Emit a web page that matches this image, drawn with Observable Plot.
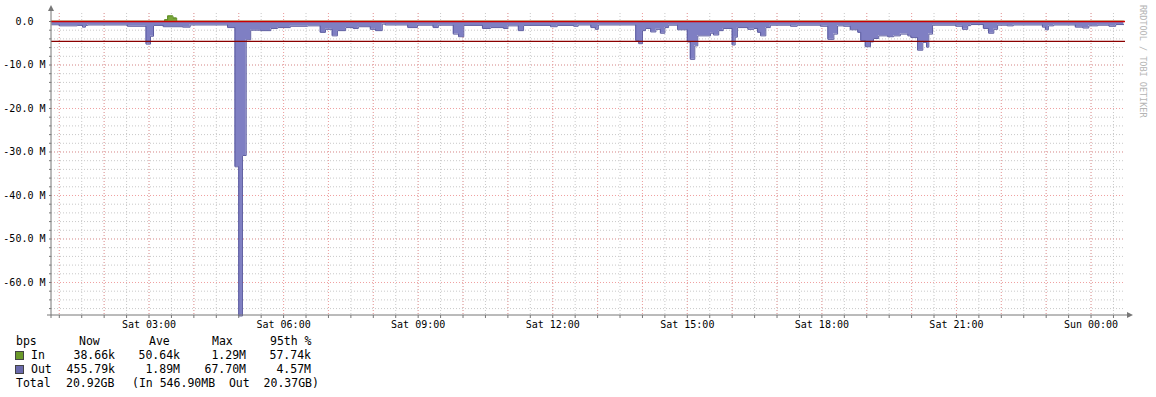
<!DOCTYPE html>
<html><head><meta charset="utf-8">
<script src="https://cdn.jsdelivr.net/npm/d3@7"></script>
<script src="https://cdn.jsdelivr.net/npm/@observablehq/plot@0.6"></script>
<style>
body{margin:0;background:#fff;}
#wrap{position:relative;width:1156px;height:397px;overflow:hidden;background:#fff;}
#legend{position:absolute;left:0;top:332px;width:1156px;height:65px;font-family:"DejaVu Sans Mono",monospace;font-size:11.5px;color:#000;}
.c{position:absolute;white-space:pre;line-height:14px;height:14px;}
.sw{position:absolute;width:7px;height:7px;border:1px solid #444;}
</style></head>
<body><div id="wrap"><div id="chart"></div><div id="legend"></div></div>
<script>
// ---- data (Mbps) ----
const outTimes = ["00:50","01:00","01:24","01:31","01:35","01:38","02:31","02:56","03:02","03:06","03:19","03:45","03:55","04:45","04:55","05:00","05:05","05:10","05:16","05:29","05:43","05:52","06:09","06:32","06:49","06:56","07:05","07:12","07:23","07:33","07:40","07:56","08:03","08:12","08:16","08:46","08:59","09:20","09:27","09:47","09:54","10:01","10:26","10:37","10:54","11:00","11:14","11:21","11:57","12:06","12:28","12:34","12:51","12:57","13:01","13:51","13:55","14:00","14:04","14:11","14:18","14:24","14:30","14:35","14:47","15:00","15:04","15:10","15:14","15:31","15:35","15:42","15:48","16:00","16:04","16:07","16:21","16:29","16:34","16:38","16:45","16:51","17:18","17:27","17:58","18:08","18:16","18:21","18:29","18:38","18:48","18:52","18:58","19:05","19:09","19:16","19:28","19:36","19:45","19:55","19:59","20:08","20:15","20:20","20:23","20:28","20:59","21:08","21:15","21:19","21:36","21:43","21:50","21:55","22:08","22:16","22:55","22:59","23:03","23:10","23:39","23:49","23:57","00:09","00:24","00:33"];
const outValues = [0.75,1.0,0.9,1.3,0.9,0.8,1.1,5.2,3.4,0.9,1.2,1.3,0.8,1.4,33.4,67.7,30.8,4.2,2.0,2.1,1.6,1.4,1.1,1.0,2.5,1.8,3.3,2.1,1.4,1.6,1.2,1.8,2.1,0.6,0.8,1.4,0.85,1.4,0.85,2.9,3.5,0.9,1.6,1.4,1.6,1.0,2.1,0.9,1.2,0.9,1.1,0.8,1.4,1.8,0.8,4.4,5.1,2.1,1.6,2.4,1.8,2.7,1.4,0.85,1.9,4.7,8.7,5.6,3.3,2.7,3.1,2.1,1.6,5.4,3.6,1.4,1.8,1.6,2.5,3.3,1.4,0.85,1.1,0.85,1.1,4.1,2.9,1.0,1.1,1.9,2.5,4.4,5.8,4.7,3.9,3.3,3.5,3.3,2.9,3.3,3.7,6.6,4.8,5.9,2.9,0.85,1.1,1.8,0.95,0.7,1.6,2.7,1.8,0.85,1.0,0.8,1.3,1.9,1.0,0.8,1.3,1.5,1.0,0.85,1.1,0.7];
const seriesEnd = "00:44";
const inTimes = ["00:50","03:21","03:25","03:32","03:37"];
const inValues = [0.04,0.4,1.29,0.8,0.04];
const out95 = 4.57;
const yMajor = [0,-10,-20,-30,-40,-50,-60];
const legendHead = ["bps","Now","Ave","Max","95th %"];
const inStats = ["38.66k","50.64k","1.29M","57.74k"];
const outStats = ["455.79k","1.89M","67.70M","4.57M"];
const totalText = ["Total","20.92GB","(In 546.90MB  Out  20.37GB)"];
const watermark = "RRDTOOL / TOBI OETIKER";

// ---- helpers ----
const base = Date.UTC(2023,0,7); // a Saturday
function t(s){const [h,m]=s.split(":").map(Number);let mi=h*60+m;if(mi<49)mi+=1440;return new Date(base+mi*60000);}
const outData = outTimes.map((s,i)=>({t:t(s),v:-outValues[i]}));
outData.push({t:t(seriesEnd),v:-outValues[outValues.length-1]});
const inData = inTimes.map((s,i)=>({t:t(s),v:inValues[i]}));
inData.push({t:t(seriesEnd),v:inValues[inValues.length-1]});

const x0 = new Date(base+49.57*60000), x1 = new Date(base+1486.1*60000);
const yTop = 1.84, yBot = -67.59;
const minorX = d3.utcMinute.every(30).range(x0,x1);
const hourX = d3.utcHour.every(1).range(x0,x1);
const labX = d3.utcHour.every(3).range(x0,x1);
const minorY = d3.range(0,-68,-2);
const fmtX = d3.utcFormat("%a %H:%M");
const mono = "DejaVu Sans Mono";

const chart = Plot.plot({
  width:1156, height:332, marginLeft:51, marginRight:31, marginTop:13, marginBottom:17,
  style:{fontFamily:mono,fontSize:"10px",background:"#fff",color:"#000"},
  x:{type:"utc",domain:[x0,x1]},
  y:{domain:[yBot,yTop]},
  marks:[
    Plot.gridX(minorX,{stroke:"#c8c8c8",strokeOpacity:1,strokeDasharray:"1,2"}),
    Plot.gridY(minorY,{stroke:"#c8c8c8",strokeOpacity:1,strokeDasharray:"1,2"}),
    Plot.gridX(hourX,{stroke:"#f0a0a0",strokeOpacity:1,strokeDasharray:"1,2"}),
    Plot.gridY(yMajor,{stroke:"#f0a0a0",strokeOpacity:1,strokeDasharray:"1,2"}),
    Plot.areaY(outData,{x:"t",y:"v",curve:"step-after",fill:"#7f7fc3"}),
    Plot.lineY(outData,{x:"t",y:"v",curve:"step-after",stroke:"#5c5ca0",strokeWidth:1}),
    Plot.areaY(inData,{x:"t",y:"v",curve:"step-after",fill:"#79a83a"}),
    Plot.lineY(inData,{x:"t",y:"v",curve:"step-after",stroke:"#5a8a20",strokeWidth:1}),
    Plot.ruleY([0],{stroke:"#cc0000",strokeWidth:1.5}),
    Plot.ruleY([-out95],{stroke:"#8a0000",strokeWidth:1.2}),
    Plot.axisX(minorX,{tickSize:3,tickFormat:()=>"",stroke:"#777",label:null}),
    Plot.axisX(labX,{tickSize:0,tickPadding:5,tickFormat:fmtX,label:null,fontFamily:mono,fontSize:10}),
    Plot.axisY(minorY,{tickSize:2,tickFormat:()=>"",stroke:"#777",label:null}),
    Plot.axisY(yMajor,{tickSize:0,tickPadding:6,label:null,fontFamily:mono,fontSize:10,
      tickFormat:d=>d===0?"0.0\u00a0\u00a0":`${d.toFixed(1)} M`})
  ]
});
document.getElementById("chart").appendChild(chart);

// axis lines with arrows, positioned from the scales
const sx = chart.scale("x"), sy = chart.scale("y");
const svg = d3.select(chart);
const ax = sx.apply(x0), ay = sy.apply(yBot), axr = sx.apply(x1), ayt = sy.apply(yTop);
const g = svg.append("g").attr("stroke","#777").attr("fill","#777");
g.append("line").attr("x1",ax).attr("x2",ax).attr("y1",ayt-4).attr("y2",ay+3);
g.append("line").attr("x1",ax-4).attr("x2",axr+3).attr("y1",ay).attr("y2",ay);
g.append("path").attr("stroke","none").attr("d",`M${ax},${ayt-8}L${ax-3},${ayt-2}L${ax+3},${ayt-2}Z`);
g.append("path").attr("stroke","none").attr("d",`M${axr+8},${ay}L${axr+2},${ay-3}L${axr+2},${ay+3}Z`);
svg.append("text").text(watermark)
  .attr("transform",`translate(${axr+17},5) rotate(90)`)
  .attr("text-anchor","start").attr("dominant-baseline","middle")
  .attr("font-family",mono).attr("font-size","8.5px").attr("fill","#b4b4b4");

// legend
const L = document.getElementById("legend");
function put(text,left,top,right){const s=document.createElement("span");s.className="c";s.textContent=text;
  if(right){s.style.left=(left-80)+"px";s.style.width="80px";s.style.textAlign="right";}else s.style.left=left+"px";
  s.style.top=top+"px";L.appendChild(s);}
const hx=[16,79,149,212,270];
legendHead.forEach((h,i)=>put(h,hx[i],2));
const ends=[115,180,246,311];
put("In",31,16); inStats.forEach((v,i)=>put(v,ends[i],16,true));
put("Out",31,30); outStats.forEach((v,i)=>put(v,ends[i],30,true));
put(totalText[0],16,44); put(totalText[1],66,44); put(totalText[2],132,44);
function sw(col,top){const d=document.createElement("div");d.className="sw";d.style.left="15px";d.style.top=top+"px";d.style.background=col;L.appendChild(d);}
sw("#6b9a2a",19); sw("#6a6aac",33);
</script></body></html>
